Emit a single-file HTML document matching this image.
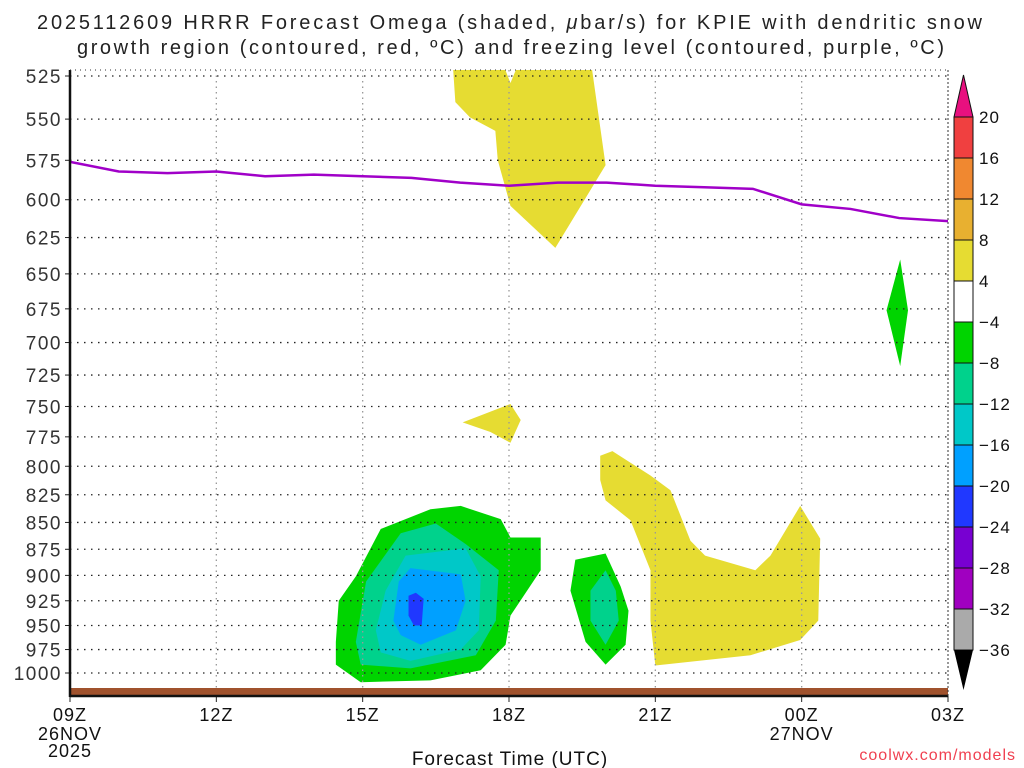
<!DOCTYPE html>
<html><head><meta charset="utf-8">
<style>
body{margin:0;background:#fff;}
svg{display:block;font-family:"Liberation Sans",sans-serif;}
</style></head>
<body>
<svg id="chart" width="1024" height="768" viewBox="0 0 1024 768">
<text x="37" y="29" textLength="945" lengthAdjust="spacing" font-size="20" fill="#222">2025112609 HRRR Forecast Omega (shaded, <tspan font-style="italic">μ</tspan>bar/s) for KPIE with dendritic snow</text>
<text x="77" y="54" textLength="867" lengthAdjust="spacing" font-size="20" fill="#222">growth region (contoured, red, ºC) and freezing level (contoured, purple, ºC)</text>
<g id="plot"></g>
<g id="axes"></g>
<g id="cbar"></g>
<text x="510" y="765" text-anchor="middle" font-size="19" letter-spacing="1" fill="#111">Forecast Time (UTC)</text>
<text x="1016" y="760" text-anchor="end" font-size="16" fill="#f04050" letter-spacing="1">coolwx.com/models</text>
</svg>
<script>
const pressureTicks=[525,550,575,600,625,650,675,700,725,750,775,800,825,850,875,900,925,950,975,1000];
const timeTicks=[0,3,6,9,12,15,18];
const timeLabels=["09Z","12Z","15Z","18Z","21Z","00Z","03Z"];
const freezeHours=[0,1,2,3,4,5,6,7,8,9,10,11,12,13,14,15,16,17,18];
const freezeP=[576,582,583,582,585,584,585,586,589,591,589,589,591,592,593,603,606,612,614];
const cbLevels=[20,16,12,8,4,-4,-8,-12,-16,-20,-24,-28,-32,-36];
const cbColors=["#f04040","#f08830","#e8b030","#e6dc32","#ffffff","#00d400","#00d28c","#00c8c8","#00a0ff","#2038ff","#7800d2","#a000c0","#aaaaaa"];
// contour polygons: [hour since 09Z, pressure hPa]
const yellowTop=[[7.84,515],[7.9,540],[8.2,549],[8.72,557],[8.77,575],[9.03,604],[9.95,632],[10.98,578],[10.67,515],[9.24,515],[9.03,529],[8.83,515]];
const yellowSmall=[[8.05,763],[9.03,748],[9.24,761],[9.03,780],[8.62,771]];
const yellowBig=[[10.87,791],[11.12,787],[11.9,808],[12.31,821],[12.72,867],[13.02,881],[14.05,895],[14.36,881],[14.97,835],[15.38,865],[15.34,945],[14.97,965],[13.95,981],[12.0,992],[11.9,945],[11.9,895],[11.49,848],[10.98,830],[10.87,812]];
const greenSliver=[[17.02,640],[17.18,676],[17.02,718],[16.74,676]];
const green1=[[5.45,967],[5.51,925],[5.86,901],[6.37,856],[7.39,838],[8.01,835],[8.83,847],[9.03,864],[9.65,864],[9.65,895],[9.03,940],[8.93,970],[8.42,997],[7.39,1008],[5.96,1010],[5.45,991]];
const green2=[[5.86,967],[6.07,906],[6.78,860],[7.5,851],[8.11,870],[8.79,895],[8.73,945],[8.32,981],[6.98,995],[5.96,991]];
const teal1=[[6.27,955],[6.47,915],[6.88,881],[8.11,874],[8.42,901],[8.38,955],[8.01,975],[6.98,987],[6.37,978]];
const blue1=[[6.63,945],[6.74,906],[6.98,893],[8.01,899],[8.11,925],[7.91,955],[7.19,970],[6.78,960]];
const blue2=[[6.94,920],[7.09,917],[7.25,923],[7.21,950],[7.05,950],[6.94,940]];
const greenSmall=[[10.36,885],[10.98,879],[11.29,911],[11.45,935],[11.39,970],[10.98,991],[10.57,967],[10.26,915]];
const seaSmall=[[10.98,895],[11.19,915],[11.25,945],[10.98,970],[10.67,945],[10.67,915]];

const NS="http://www.w3.org/2000/svg";
const X0=70,X1=948,YT=70,YB=696;
const x=h=>X0+h*(X1-X0)/18;
const y=p=>673-(Math.log(1000)-Math.log(p))*926.5;
function mk(tag,attrs,parent){const e=document.createElementNS(NS,tag);for(const k in attrs)e.setAttribute(k,attrs[k]);parent.appendChild(e);return e;}
const plot=document.getElementById('plot'),axes=document.getElementById('axes'),cb=document.getElementById('cbar');
const cp=mk('clipPath',{id:'clip'},plot);
mk('rect',{x:X0,y:YT,width:X1-X0,height:YB-YT},cp);
const g=mk('g',{'clip-path':'url(#clip)'},plot);
function poly(pts,fill,name){const e=mk('polygon',{points:pts.map(q=>x(q[0])+','+y(q[1])).join(' '),fill:fill},g);

}
poly(yellowTop,"#e6dc32","yellow-region-upper");
poly(yellowSmall,"#e6dc32","yellow-region-small");
poly(yellowBig,"#e6dc32","yellow-region-lower");
poly(greenSliver,"#00d400","green-region-right");
poly(green1,"#00d400","green-region-main");
poly(green2,"#00d28c","seafoam-region-main");
poly(teal1,"#00c8c8","teal-region-main");
poly(blue1,"#00a0ff","blue-region-main");
poly(blue2,"#2038ff","darkblue-region-main");
poly(greenSmall,"#00d400","green-region-small");
poly(seaSmall,"#00d28c","seafoam-region-small");
// grid
pressureTicks.forEach(p=>{const l=mk('line',{x1:X0,x2:X1,y1:y(p),y2:y(p),stroke:'#222','stroke-width':1.3,'stroke-dasharray':'1.5 5.5'},g);


const t=mk('text',{x:62,y:y(p)+7,'text-anchor':'end','font-size':19,'letter-spacing':1.5,fill:'#333'},axes);t.textContent=p;


mk('line',{x1:X0-5,x2:X0,y1:y(p),y2:y(p),stroke:'#222','stroke-width':1},axes);});
timeTicks.forEach((h,i)=>{if(i>0&&i<6){const l=mk('line',{x1:x(h),x2:x(h),y1:YT,y2:YB,stroke:'#999','stroke-width':1.3,'stroke-dasharray':'1.5 4'},g);

}
mk('line',{x1:x(h),x2:x(h),y1:YB,y2:YB+6,stroke:'#222'},axes);
const t=mk('text',{x:x(h),y:721,'text-anchor':'middle','font-size':18,'letter-spacing':1,fill:'#111'},axes);t.textContent=timeLabels[i];

});
[["26NOV",0,740],["2025",0,757],["27NOV",15,740]].forEach(a=>{const t=mk('text',{x:x(a[1]),y:a[2],'text-anchor':'middle','font-size':18,'letter-spacing':1,fill:'#111'},axes);t.textContent=a[0];

});
// freezing line
const fl=mk('polyline',{points:freezeHours.map((h,i)=>x(h)+','+y(freezeP[i])).join(' '),fill:'none',stroke:'#a000c8','stroke-width':2.5},g);


// ground
const gr=mk('rect',{x:X0,y:688,width:X1-X0,height:7,fill:'#a0522d'},plot);


// frame
mk('line',{x1:X0,x2:X0,y1:YT,y2:YB+1,stroke:'#111','stroke-width':2.5},axes);
mk('line',{x1:X0,x2:X1,y1:YB,y2:YB,stroke:'#111','stroke-width':2.5},axes);
mk('line',{x1:X1,x2:X1,y1:YT,y2:YB,stroke:'#333','stroke-width':1,'stroke-dasharray':'2 2'},axes);
mk('line',{x1:X0,x2:X1,y1:YT,y2:YT,stroke:'#333','stroke-width':1,'stroke-dasharray':'1 4'},axes);
// colorbar
const CX=954,CW=19,C0=117,CS=41;
mk('polygon',{points:`${CX},${C0} ${CX+CW},${C0} ${CX+CW/2},75`,fill:'#e8107f',stroke:'#111'},cb);
cbColors.forEach((c,i)=>{const r=mk('rect',{x:CX,y:C0+i*CS,width:CW,height:CS,fill:c,stroke:'#111','stroke-width':1},cb);

});
const bEnd=C0+cbColors.length*CS;
mk('polygon',{points:`${CX},${bEnd} ${CX+CW},${bEnd} ${CX+CW/2},690`,fill:'#000'},cb);
cbLevels.forEach((v,i)=>{const t=mk('text',{x:979,y:C0+i*CS+6,'font-size':17,'letter-spacing':1,fill:'#111'},cb);t.textContent=v<0?'\u2212'+(-v):v;

});
</script>
</body></html>
